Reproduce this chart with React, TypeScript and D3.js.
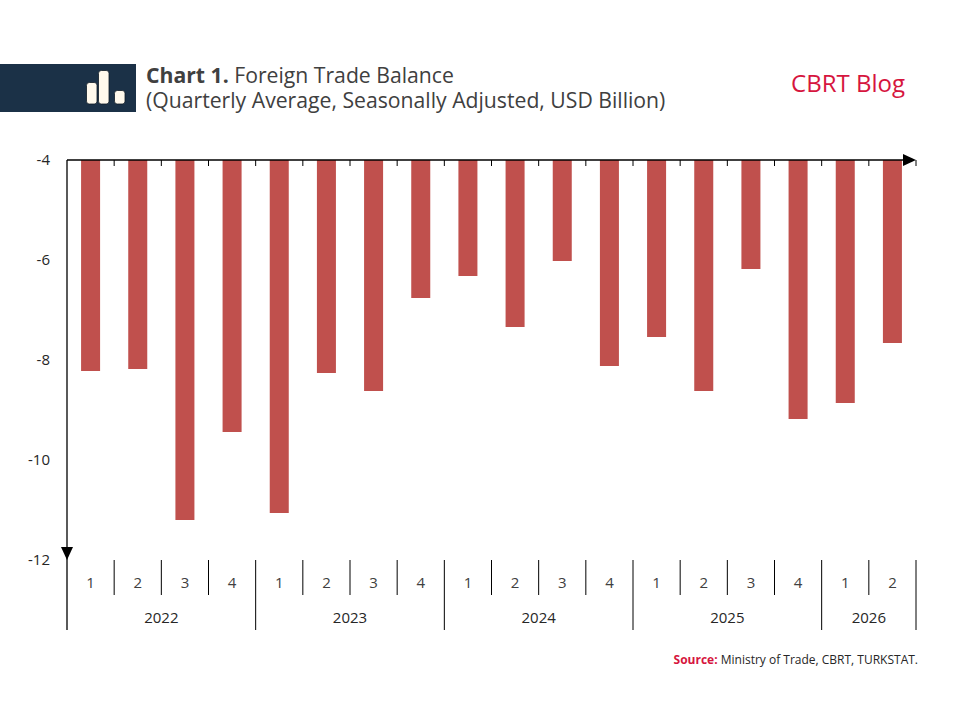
import React from "react";
import * as d3 from "d3";

const quarters = ["1","2","3","4","1","2","3","4","1","2","3","4","1","2","3","4","1","2"];
const years = ["2022","2023","2024","2025","2026"];
const yearQuarterCounts = [4,4,4,4,2];
const balance = [-8.22,-8.18,-11.2,-9.44,-11.06,-8.26,-8.62,-6.76,-6.32,-7.34,-6.02,-8.12,-7.54,-8.62,-6.18,-9.18,-8.86,-7.66];
const yTicks = [-4,-6,-8,-10,-12];

const W = 960, H = 720;
const FONT = "'Open Sans', 'Noto Sans', sans-serif";

export default function App() {
  const x = d3.scaleBand<number>()
    .domain(balance.map((_, i) => i))
    .range([67, 916])
    .paddingInner(0.597)
    .paddingOuter(0.2985);
  const y = d3.scaleLinear().domain([-4, -12]).range([160, 560]);
  const step = x.step();
  const bw = x.bandwidth();
  const left = (i: number) => (x(i) as number) - (step - bw) / 2;
  const x0 = 67, x1 = 916;
  const yTop = y(-4), yBot = y(-12);

  const yearStarts: number[] = [];
  let acc = 0;
  yearQuarterCounts.forEach((c) => { yearStarts.push(acc); acc += c; });

  return (
    <svg width={W} height={H} style={{ position: "absolute", left: 0, top: 0, background: "#fff" }}>
      <rect x={0} y={0} width={W} height={H} fill="#fff" />
      {/* header */}
      <rect x={0} y={64} width={136} height={48} fill="#1B3147" />
      <rect x={86.5} y={82.5} width={10.5} height={21.5} rx={2.8} fill="#FFF9EC" stroke="#0E1B26" strokeWidth={0.8} />
      <rect x={98.5} y={70.5} width={10.5} height={33.5} rx={2.8} fill="#FFF9EC" stroke="#0E1B26" strokeWidth={0.8} />
      <rect x={114.5} y={90.5} width={10.5} height={13.5} rx={2.8} fill="#FFF9EC" stroke="#0E1B26" strokeWidth={0.8} />
      <text x={146} y={83} fontFamily={FONT} fontSize={21.2} fill="#404040">
        <tspan fontWeight="bold">Chart 1.</tspan> Foreign Trade Balance
      </text>
      <text x={146} y={108} fontFamily={FONT} fontSize={21.2} fill="#404040">
        (Quarterly Average, Seasonally Adjusted, USD Billion)
      </text>
      <text x={905} y={92} textAnchor="end" fontFamily={FONT} fontSize={24} fill="#D6153E">CBRT Blog</text>

      {/* bars */}
      {balance.map((v, i) => (
        <rect key={i} x={x(i)} y={y(-4)} width={bw} height={y(v) - y(-4)} fill="#C0504D" />
      ))}

      {/* top axis */}
      <line x1={x0} x2={x1 - 10} y1={yTop} y2={yTop} stroke="#000" strokeWidth={1.3} />
      {balance.map((_, i) => (
        <line key={"t" + i} x1={left(i) + step} x2={left(i) + step} y1={yTop} y2={yTop + 6} stroke="#000" strokeWidth={1} />
      ))}
      <path d={`M${x1 - 13},${yTop - 6} L${x1},${yTop} L${x1 - 13},${yTop + 6} Z`} fill="#000" />

      {/* left axis */}
      <line x1={x0} x2={x0} y1={yTop} y2={630} stroke="#000" strokeWidth={1.3} />
      <path d={`M${x0 - 6},${yBot - 13} L${x0},${yBot} L${x0 + 6},${yBot - 13} Z`} fill="#000" />
      {yTicks.map((t) => (
        <text key={t} x={50} y={y(t)} dy="0.35em" textAnchor="end" fontFamily={FONT} fontSize={15} fill="#262626">{t}</text>
      ))}

      {/* category axis */}
      {quarters.map((q, i) => (
        <text key={"q" + i} x={(x(i) as number) + bw / 2} y={583} dy="0.35em" textAnchor="middle" fontFamily={FONT} fontSize={15} fill="#404040">{q}</text>
      ))}
      {quarters.map((_, i) => {
        const isYearEnd = yearStarts.includes(i + 1) || i === quarters.length - 1;
        return (
          <line key={"s" + i} x1={left(i) + step} x2={left(i) + step} y1={560} y2={isYearEnd ? 630 : 595} stroke="#000" strokeWidth={1} />
        );
      })}
      {years.map((yr, k) => {
        const s = left(yearStarts[k]);
        const e = s + step * yearQuarterCounts[k];
        return (
          <text key={yr} x={(s + e) / 2} y={618} dy="0.35em" textAnchor="middle" fontFamily={FONT} fontSize={15} fill="#262626">{yr}</text>
        );
      })}

      {/* source */}
      <text x={918} y={664} textAnchor="end" fontFamily={FONT} fontSize={12} fill="#262626">
        <tspan fontWeight="bold" fill="#D6153E">Source:</tspan> Ministry of Trade, CBRT, TURKSTAT.
      </text>
    </svg>
  );
}
